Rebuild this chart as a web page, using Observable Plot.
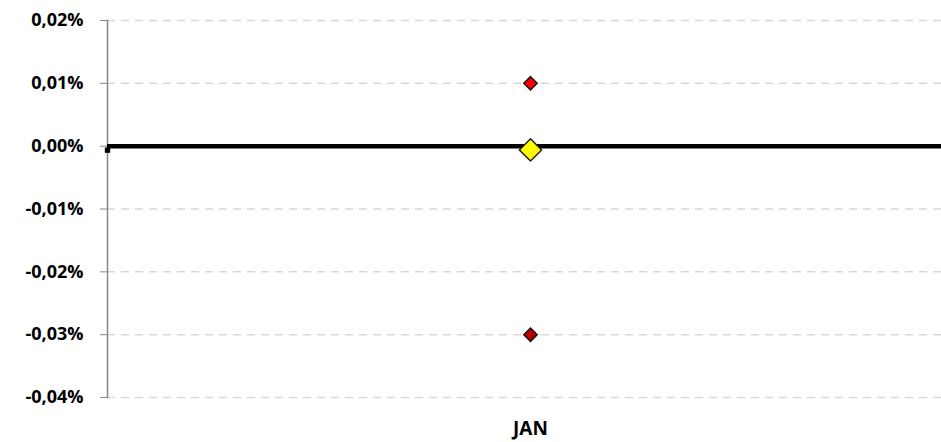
<!DOCTYPE html>
<html>
<head>
<meta charset="utf-8">
<script src="https://cdn.jsdelivr.net/npm/d3@7"></script>
<script src="https://cdn.jsdelivr.net/npm/@observablehq/plot@0.6"></script>
<style>
  html, body { margin: 0; padding: 0; background: #fff; }
  #chart svg { display: block; }
</style>
</head>
<body>
<div id="chart"></div>
<script>
const categories = ["JAN"];
const extremeMonths = ["JAN", "JAN"];
const extremeValues = [0.01, -0.03];
const extremeColors = ["#ff0000", "#c00000"];
const averageMonths = ["JAN"];
const averageValues = [-0.0006];
const yTicks = [0.02, 0.01, 0, -0.01, -0.02, -0.03, -0.04];

const fmt = d => d.toFixed(2).replace(".", ",") + "%";
const fontFamily = "'Open Sans', 'DejaVu Sans', sans-serif";

const extremes = extremeMonths.map((m, i) => ({month: m, value: extremeValues[i], color: extremeColors[i]}));
const averages = averageMonths.map((m, i) => ({month: m, value: averageValues[i]}));

const chart = Plot.plot({
  width: 941,
  height: 442,
  marginTop: 20,
  marginBottom: 45,
  marginLeft: 107,
  marginRight: 0,
  style: {fontFamily, background: "#fff", color: "#000", overflow: "visible"},
  x: {type: "band", domain: categories, range: [107, 953], label: null},
  y: {domain: [-0.04, 0.02], ticks: yTicks, tickFormat: fmt, label: null},
  marks: [
    Plot.ruleY(yTicks.filter(d => d !== 0), {stroke: "#d9d9d9", strokeWidth: 1.5, strokeDasharray: "8,6"}),
    Plot.frame({anchor: "left", stroke: "#868686", strokeWidth: 1.5}),
    Plot.axisY({ticks: yTicks, tickFormat: fmt, tickSize: 7, tickPadding: 17, stroke: "#868686", fontSize: 18, fontWeight: "bold", fill: "#000", label: null, style: {letterSpacing: "0.3px"}}),
    Plot.axisX({tickSize: 0, tickPadding: 24, fontSize: 19, fontWeight: "bold", fill: "#000", label: null}),
    Plot.ruleY([0], {stroke: "#000", strokeWidth: 4.5}),
    Plot.dot([0], {y: d => d, frameAnchor: "left", symbol: "square", r: 3, dy: 4, fill: "#000"}),
    Plot.dot(extremes, {x: "month", y: "value", symbol: "diamond2", r: 6, fill: d => d.color, stroke: "#111", strokeWidth: 1.5}),
    Plot.dot(averages, {x: "month", y: "value", symbol: "diamond2", r: 10, fill: "#ffff00", stroke: "#222", strokeWidth: 1.5})
  ]
});
document.getElementById("chart").appendChild(chart);
</script>
</body>
</html>
